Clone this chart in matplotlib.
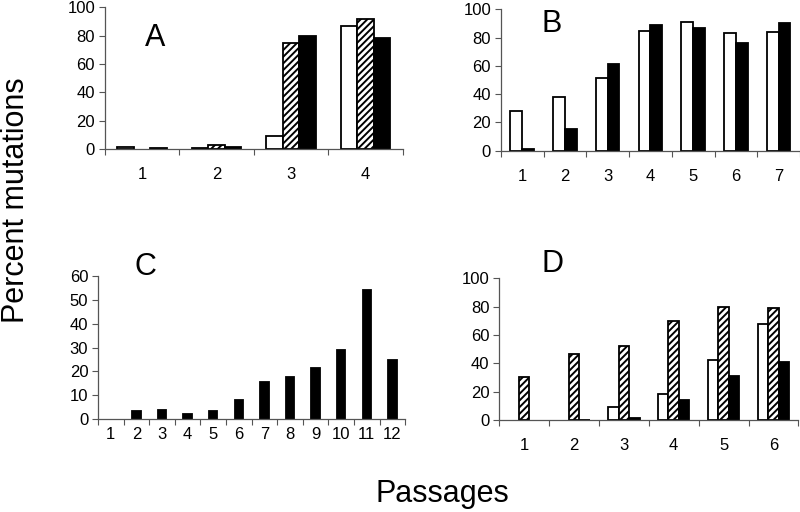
import numpy as np
import matplotlib
matplotlib.use('Agg')
import matplotlib.pyplot as plt

plt.rcParams['font.family'] = ['Liberation Sans', 'DejaVu Sans']
plt.rcParams['hatch.linewidth'] = 1.4

# panel A: 4 passages, 3 series (white, hatched, black)
a_white = [1.5, 0.5, 9.5, 86.5]
a_hatched = [0, 2.5, 74.5, 92]
a_black = [0.5, 1.5, 80, 78.5]

# panel B: 7 passages, 2 series
b_white = [28, 38, 51.5, 84.5, 91, 83.5, 84]
b_black = [1, 15.5, 61, 89, 87, 76.5, 90.5]

# panel C: 12 passages, one series
c_black = [0, 3.4, 3.9, 2.0, 3.4, 8.1, 15.5, 17.8, 21.3, 29, 54, 24.8]

# panel D: 6 passages, 3 series
d_white = [0, 0, 9, 18, 42, 68]
d_hatched = [30.5, 46.5, 52, 70, 79.5, 79]
d_black = [0, 0.3, 1.4, 14, 31, 41]

fig = plt.figure(figsize=(8, 5.12), dpi=100)


def setup(ax, n, ymax, ystep, pad):
    ax.set_xlim(0.5, n + 0.5)
    ax.set_ylim(0, ymax)
    ax.spines['top'].set_visible(False)
    ax.spines['right'].set_visible(False)
    for s in ['left', 'bottom']:
        ax.spines[s].set_color('#555555')
        ax.spines[s].set_linewidth(0.9)
    # ticks between categories, labels at the centres
    ax.set_xticks(np.arange(0.5, n + 1, 1))
    ax.set_xticklabels([])
    ax.set_xticks(np.arange(1, n + 1), minor=True)
    ax.set_xticklabels([str(i) for i in range(1, n + 1)], minor=True)
    ax.tick_params(axis='x', which='major', length=4, color='#555555', direction='out')
    ax.tick_params(axis='x', which='minor', length=0, pad=pad, labelsize=12)
    ax.set_yticks(np.arange(0, ymax + 1, ystep))
    ax.tick_params(axis='y', length=4, color='#555555', pad=3, labelsize=12)


def bar(ax, x, vals, w, **kw):
    # no outline for empty bars
    lw = [1.3 if v > 0 else 0 for v in vals]
    ax.bar(x, vals, w, edgecolor='black', linewidth=lw, **kw)


def bars3(ax, white, hatched, black, w):
    x = np.arange(1, len(white) + 1)
    bar(ax, x - w, white, w, color='white')
    bar(ax, x, hatched, w, color='white', hatch='/////')
    bar(ax, x + w, black, w, color='black')


axA = fig.add_axes([0.131, 0.709, 0.3725, 0.277])
setup(axA, 4, 100, 20, 13)
bars3(axA, a_white, a_hatched, a_black, 0.22)

axB = fig.add_axes([0.626, 0.7057, 0.374, 0.276])
setup(axB, 7, 100, 20, 13)
xb = np.arange(1, 8)
bar(axB, xb - 0.1375, b_white, 0.275, color='white')
bar(axB, xb + 0.1375, b_black, 0.275, color='black')

axC = fig.add_axes([0.1225, 0.1816, 0.384, 0.279])
setup(axC, 12, 60, 10, 6)
bar(axC, np.arange(1, 13), c_black, 0.33, color='black')

axD = fig.add_axes([0.624, 0.1797, 0.374, 0.277])
setup(axD, 6, 100, 20, 13)
bars3(axD, d_white, d_hatched, d_black, 0.21)

fig.text(155 / 800, 1 - 37.5 / 512, 'A', fontsize=22, ha='center', va='center')
fig.text(552 / 800, 1 - 24 / 512, 'B', fontsize=22, ha='center', va='center')
fig.text(145 / 800, 1 - 267 / 512, 'C', fontsize=22, ha='center', va='center')
fig.text(553 / 800, 1 - 264 / 512, 'D', fontsize=22, ha='center', va='center')

fig.text(1 / 800, 1 - 200 / 512, 'Percent mutations', fontsize=22, rotation=90,
         ha='left', va='center')
fig.text(442 / 800, 1 - 494 / 512, 'Passages', fontsize=22, ha='center', va='center')

plt.savefig('out.png', dpi=100)
